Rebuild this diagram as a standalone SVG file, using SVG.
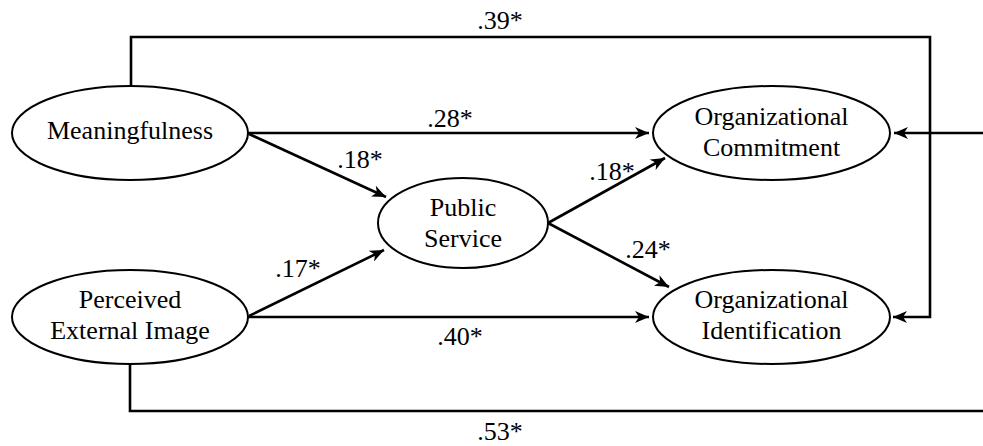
<svg xmlns="http://www.w3.org/2000/svg" width="983" height="446" viewBox="0 0 983 446">
<defs>
<style>
.node ellipse{fill:#fff;stroke:#000;stroke-width:2}
text{font-family:"Liberation Serif","Times New Roman",serif;font-size:26px;fill:#000;text-anchor:middle}
.conn path{fill:none;stroke:#000;stroke-width:2.6}
</style>
<marker id="arr" viewBox="0 0 14 12" markerWidth="14" markerHeight="12" refX="14" refY="6" orient="auto" markerUnits="userSpaceOnUse">
<path d="M0,0 L14,6 L0,12 L4,6 Z" fill="#000"/>
</marker>
</defs>
<rect width="983" height="446" fill="#fff"/>
<g class="conn" id="connectors">
<path d="M131,86 L131,37 L930,37 L930,317 L893,317" marker-end="url(#arr)"/>
<path d="M130,364 L130,411 L983,411"/>
<path d="M983,133 L894,133" marker-end="url(#arr)"/>
<path d="M248,133 L649,133" marker-end="url(#arr)"/>
<path d="M248,317 L649,317" marker-end="url(#arr)"/>
<path d="M249,134 L386,197" marker-end="url(#arr)"/>
<path d="M249,316 L384,250" marker-end="url(#arr)"/>
<path d="M548,223 L665,158" marker-end="url(#arr)"/>
<path d="M548,223 L669,287" marker-end="url(#arr)"/>
</g>
<g id="labels">
<text x="500" y="29">.39*</text>
<text x="450" y="127">.28*</text>
<text x="360" y="168">.18*</text>
<text x="612" y="180">.18*</text>
<text x="648" y="258">.24*</text>
<text x="298" y="277">.17*</text>
<text x="460" y="345">.40*</text>
<text x="500" y="440">.53*</text>
</g>
<g class="node" id="meaningfulness">
<ellipse cx="130" cy="133" rx="118" ry="47"/>
<text x="130" y="139">Meaningfulness</text>
</g>
<g class="node" id="perceived-external-image">
<ellipse cx="130" cy="317" rx="118" ry="47"/>
<text x="130" y="308">Perceived</text>
<text x="130" y="339">External Image</text>
</g>
<g class="node" id="public-service">
<ellipse cx="463" cy="223" rx="85" ry="45"/>
<text x="463" y="216">Public</text>
<text x="463" y="247">Service</text>
</g>
<g class="node" id="organizational-commitment">
<ellipse cx="771.5" cy="133" rx="118.5" ry="47"/>
<text x="771.5" y="125">Organizational</text>
<text x="771.5" y="156">Commitment</text>
</g>
<g class="node" id="organizational-identification">
<ellipse cx="771.5" cy="317" rx="118.5" ry="47"/>
<text x="771.5" y="308">Organizational</text>
<text x="771.5" y="339">Identification</text>
</g>
</svg>
